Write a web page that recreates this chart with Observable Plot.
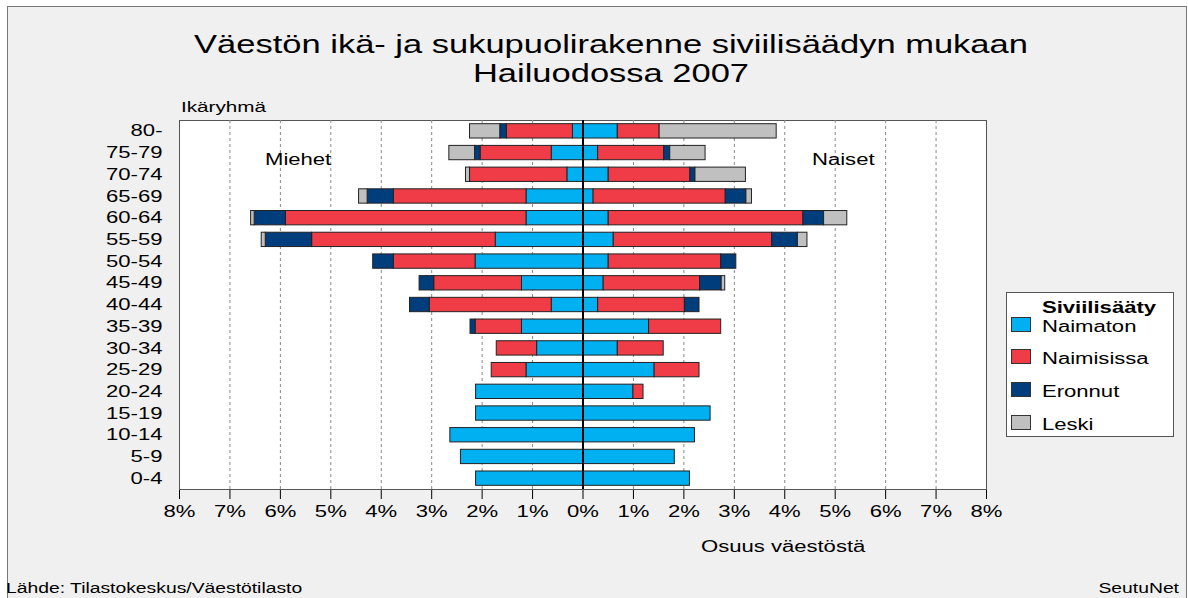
<!DOCTYPE html>
<html>
<head>
<meta charset="utf-8">
<script src="https://cdn.jsdelivr.net/npm/d3@7"></script>
<script src="https://cdn.jsdelivr.net/npm/@observablehq/plot@0.6"></script>
<style>
  html, body { margin: 0; padding: 0; background: #ffffff; }
  #page { position: relative; width: 1188px; height: 598px; overflow: hidden; background: #ffffff; }
  #panel { position: absolute; left: 7px; top: 6px; width: 1178px; height: 600px; background: #f0f0f0;
           border-left: 1px solid #777; border-top: 1px solid #777; border-right: 1px solid #777; }
</style>
</head>
<body>
<div id="page"><div id="panel"></div></div>
<script>
// ---- Data (percent of population) ----
const ages = ["80-","75-79","70-74","65-69","60-64","55-59","50-54","45-49","40-44","35-39","30-34","25-29","20-24","15-19","10-14","5-9","0-4"];
const statuses = ["Naimaton","Naimisissa","Eronnut","Leski"];
const statusColors = ["#00b0f0","#f03c46","#003d7d","#c0c0c0"];
const xTicks = [-8,-7,-6,-5,-4,-3,-2,-1,0,1,2,3,4,5,6,7,8];
const gridTicks = [-7,-6,-5,-4,-3,-2,-1,1,2,3,4,5,6,7];

// Miehet (men)
const menNaimaton   = [0.20,0.62,0.31,1.12,1.12,1.73,2.13,1.21,0.62,1.21,0.91,1.12,2.12,2.12,2.63,2.42,2.12];
const menNaimisissa = [1.31,1.41,1.93,2.63,4.77,3.64,1.62,1.74,2.42,0.92,0.80,0.69,0,0,0,0,0];
const menEronnut    = [0.13,0.11,0,0.52,0.62,0.92,0.41,0.29,0.39,0.10,0,0,0,0,0,0,0];
const menLeski      = [0.60,0.51,0.08,0.17,0.07,0.08,0,0,0,0,0,0,0,0,0,0,0];
// Naiset (women)
const womenNaimaton   = [0.69,0.30,0.51,0.21,0.51,0.61,0.51,0.41,0.30,1.31,0.69,1.42,1.00,2.53,2.22,1.82,2.12];
const womenNaimisissa = [0.83,1.31,1.62,2.62,3.86,3.14,2.23,1.91,1.72,1.43,0.91,0.89,0.20,0,0,0,0];
const womenEronnut    = [0,0.12,0.10,0.41,0.41,0.51,0.30,0.43,0.29,0,0,0,0,0,0,0,0];
const womenLeski      = [2.32,0.70,1.00,0.11,0.46,0.19,0,0.07,0,0,0,0,0,0,0,0,0];

const men = {Naimaton: menNaimaton, Naimisissa: menNaimisissa, Eronnut: menEronnut, Leski: menLeski};
const women = {Naimaton: womenNaimaton, Naimisissa: womenNaimisissa, Eronnut: womenEronnut, Leski: womenLeski};

const rows = [];
ages.forEach((age, i) => {
  statuses.forEach(s => {
    if (men[s][i] > 0) rows.push({age, status: s, value: -men[s][i]});
    if (women[s][i] > 0) rows.push({age, status: s, value: women[s][i]});
  });
});

const S = 1.38; // horizontal text stretch of the original image
const FONT = "'Liberation Sans', Arial, Helvetica, sans-serif";

const chart = Plot.plot({
  width: 1188,
  height: 598,
  marginLeft: 179,
  marginRight: 202,
  marginTop: 120,
  marginBottom: 109,
  style: {background: "transparent", fontFamily: FONT, fontSize: "16px", color: "#000"},
  x: {domain: [-8, 8], ticks: xTicks, tickFormat: d => Math.abs(d) + "%", tickSize: 10, tickPadding: 6, label: null},
  y: {domain: ages, paddingInner: 0.34, paddingOuter: 0.17, round: false, tickSize: 0, tickPadding: 17, label: null},
  color: {domain: statuses, range: statusColors},
  marks: [
    Plot.frame({fill: "white", stroke: "#555"}),
    Plot.ruleX(gridTicks, {stroke: "#888", strokeDasharray: "3,3"}),
    Plot.barX(rows, Plot.stackX({x: "value", y: "age", fill: "status", order: statuses, stroke: "#222", strokeWidth: 1})),
    Plot.ruleX([0], {stroke: "#000", strokeWidth: 2})
  ]
});

chart.style.position = "absolute";
chart.style.left = "0px";
chart.style.top = "0px";
document.getElementById("page").appendChild(chart);

// stretch axis text horizontally like the original
chart.querySelectorAll("text").forEach(t => {
  const x = parseFloat(t.getAttribute("x")) || 0;
  const tr = t.getAttribute("transform") || "";
  t.setAttribute("transform", `${tr} translate(${x},0) scale(${S},1) translate(${-x},0)`);
});

const svg = d3.select(chart);
function addText(x, y, str, size, anchor = "start", weight = "normal") {
  svg.append("text")
    .attr("x", x).attr("y", y)
    .attr("text-anchor", anchor)
    .attr("font-size", size)
    .attr("font-weight", weight)
    .attr("font-family", FONT)
    .attr("fill", "#000")
    .attr("transform", `translate(${x},0) scale(${S},1) translate(${-x},0)`)
    .text(str);
}

addText(611, 53, "Väestön ikä- ja sukupuolirakenne siviilisäädyn mukaan", 25, "middle");
addText(611, 82, "Hailuodossa 2007", 25, "middle");
addText(181, 112, "Ikäryhmä", 15);
addText(265, 165, "Miehet", 16);
addText(812, 165, "Naiset", 16);
addText(701, 552, "Osuus väestöstä", 16);
addText(6, 593, "Lähde: Tilastokeskus/Väestötilasto", 14);
addText(1179, 593, "SeutuNet", 14, "end");

// legend
svg.append("rect").attr("x", 1006.5).attr("y", 292.5).attr("width", 167).attr("height", 144)
  .attr("fill", "white").attr("stroke", "#555");
addText(1042, 313, "Siviilisääty", 16, "start", "bold");
const legY = [317, 349, 382, 415];
statuses.forEach((s, i) => {
  svg.append("rect").attr("x", 1011.5).attr("y", legY[i] + 0.5).attr("width", 19).attr("height", 14)
    .attr("fill", statusColors[i]).attr("stroke", "#333");
  addText(1042, legY[i] + 15, s, 16);
});
</script>
</body>
</html>
